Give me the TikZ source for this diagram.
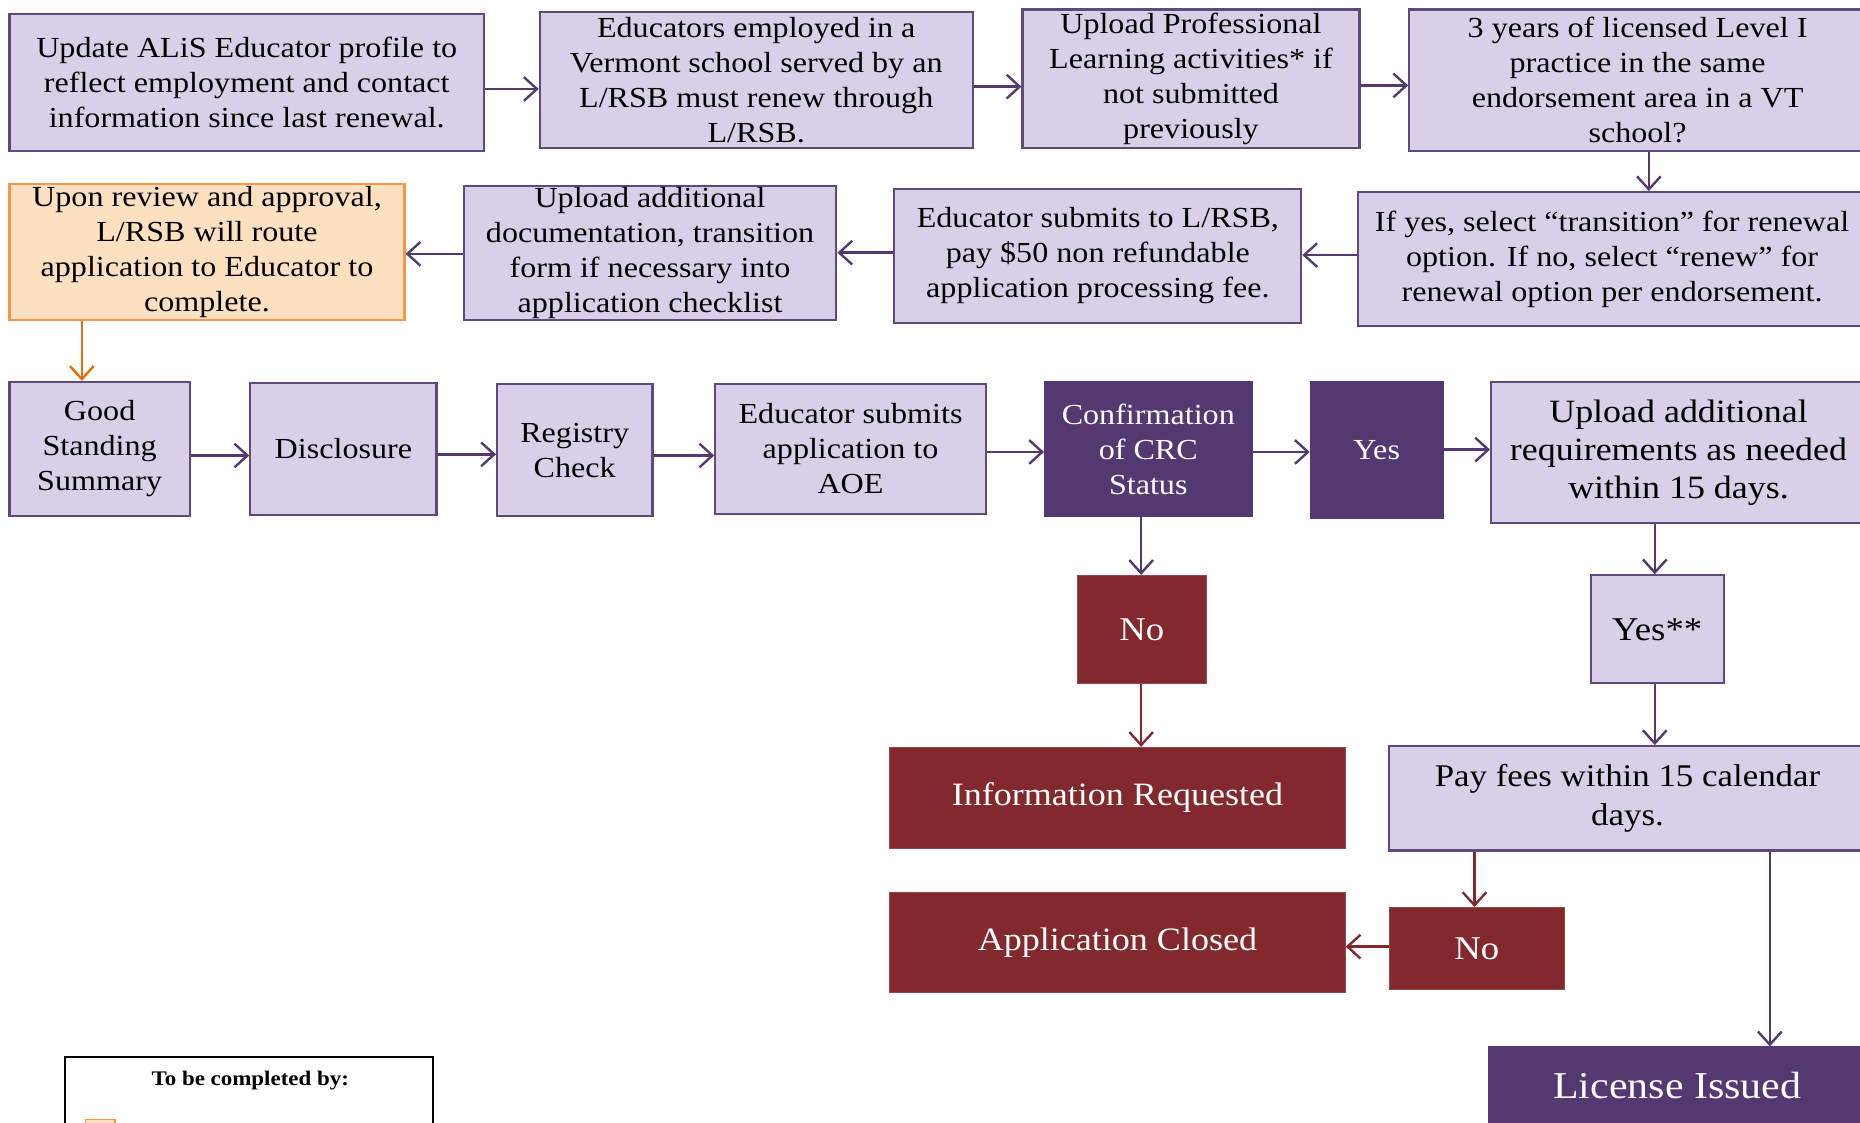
\documentclass[tikz,border=0pt]{standalone}
\usepackage{fontspec}
\setmainfont{Liberation Serif}[FakeStretch=1.105]
\usetikzlibrary{arrows.meta}
\definecolor{lightp}{RGB}{217,207,232}
\definecolor{bordp}{RGB}{96,74,123}
\definecolor{darkp}{RGB}{84,56,113}
\definecolor{darkr}{RGB}{131,40,45}
\definecolor{orangef}{RGB}{253,224,192}
\definecolor{oranged}{RGB}{247,150,70}
\definecolor{orangea}{RGB}{228,108,10}
\definecolor{arrp}{RGB}{84,56,113}
\definecolor{arrr}{RGB}{131,40,45}
\tikzset{
  base/.style={inner sep=0pt, align=center, line width=1.8pt, font=\fontsize{24.5}{29.5}\selectfont},
  lbox/.style={base, draw=bordp, fill=lightp, text=black},
  dpbox/.style={base, draw=darkp, fill=darkp, text=white},
  rbox/.style={base, draw=darkr!85!white, line width=0.8pt, fill=darkr, text=white},
  obox/.style={base, draw=oranged, fill=orangef, text=black},
  arr/.style={draw=arrp, line width=2pt, -{Straight Barb[length=11pt,width=20pt,line width=2pt]}},
  arrred/.style={arr, draw=arrr},
  arrorg/.style={arr, draw=orangea},
  legend/.style={draw=black, line width=1.4pt, fill=white}
}
\begin{document}
\begin{tikzpicture}[x=1pt,y=-1pt]
\useasboundingbox (0,0) rectangle (1568,946);
\clip (0,0) rectangle (1568,946);
% Row 1
\node[lbox, minimum width=400pt, minimum height=115pt] (b1) at (208,69.5)
  {Update ALiS Educator profile to\\reflect employment and contact\\information since last renewal.};
\node[lbox, minimum width=365pt, minimum height=115pt] (b2) at (637.5,67.5)
  {Educators employed in a\\Vermont school served by an\\L/RSB must renew through\\L/RSB.};
\node[lbox, minimum width=284pt, minimum height=117pt] (b3) at (1004,66.5)
  {Upload Professional\\Learning activities* if\\not submitted\\previously};
\node[lbox, minimum width=385pt, minimum height=119pt] (b4) at (1380.5,67.5)
  {3 years of licensed Level I\\practice in the same\\endorsement area in a VT\\school?};
% Row 2
\node[lbox, minimum width=428pt, minimum height=113pt] (b5) at (1359,218.5)
  {If yes, select “transition” for renewal\\option. If no, select “renew” for\\renewal option per endorsement.};
\node[lbox, minimum width=343pt, minimum height=113pt] (b6) at (925.5,215.5)
  {Educator submits to L/RSB,\\pay \$50 non refundable\\application processing fee.};
\node[lbox, minimum width=314pt, minimum height=113pt] (b7) at (548,213.5)
  {Upload additional\\documentation, transition\\form if necessary into\\application checklist};
\node[obox, minimum width=333pt, minimum height=115pt] (b8) at (174.5,212.5)
  {Upon review and approval,\\L/RSB will route\\application to Educator to\\complete.};
% Row 3
\node[lbox, minimum width=152pt, minimum height=113pt] (b9) at (84,378.5)
  {Good\\Standing\\Summary};
\node[lbox, minimum width=157pt, minimum height=111pt] (b10) at (289.5,378.5)
  {Disclosure};
\node[lbox, minimum width=131pt, minimum height=111pt] (b11) at (484.5,379.5)
  {Registry\\Check};
\node[lbox, minimum width=228pt, minimum height=109pt] (b12) at (717,378.5)
  {Educator submits\\application to\\AOE};
\node[dpbox, minimum width=174pt, minimum height=113pt] (b13) at (968,378.5)
  {Confirmation\\of CRC\\Status};
\node[dpbox, minimum width=111pt, minimum height=115pt] (b14) at (1160.5,379.5)
  {Yes};
\node[lbox, minimum width=316pt, minimum height=119pt, font=\fontsize{27.4}{32}\selectfont] (b15) at (1415,381.5)
  {Upload additional\\requirements as needed\\within 15 days.};
% Lower part
\node[rbox, minimum width=109pt, minimum height=91pt, font=\fontsize{28}{32}\selectfont] (b16) at (962.5,530.5) {No};
\node[rbox, minimum width=384pt, minimum height=85pt, font=\fontsize{27.5}{32}\selectfont] (b17) at (942,672.5)
  {Information Requested};
\node[lbox, minimum width=112pt, minimum height=91pt, font=\fontsize{28}{34}\selectfont] (b18) at (1397,530.5)
  {Yes**};
\node[lbox, minimum width=402pt, minimum height=88pt, font=\fontsize{26.6}{33}\selectfont] (b19) at (1372,673)
  {Pay fees within 15 calendar\\days.};
\node[rbox, minimum width=148pt, minimum height=69pt, font=\fontsize{28}{32}\selectfont] (b20) at (1245,799.5) {No};
\node[rbox, minimum width=384pt, minimum height=85pt, font=\fontsize{27.5}{32}\selectfont] (b21) at (942,794.5)
  {Application Closed};
\node[dpbox, minimum width=318pt, minimum height=65pt, font=\fontsize{32}{36}\selectfont] (b22) at (1414,915.5)
  {License Issued};
% Legend
\node[legend, minimum width=310pt, minimum height=90pt] (lg) at (210,936) {};
\node[inner sep=0pt, font=\fontsize{17.5}{20}\selectfont\bfseries] (lgt) at (211,911) {To be completed by:};
\node[draw=oranged, fill=orangef, line width=1pt, minimum width=25pt, minimum height=20pt, inner sep=0pt] (lgo) at (84.5,954) {};
% Connectors row 1
\draw[arr] (b1.east |- 0,75) -- (b2.west |- 0,75);
\draw[arr] (b2.east |- 0,73) -- (b3.west |- 0,73);
\draw[arr] (b3.east |- 0,72) -- (b4.west |- 0,72);
\draw[arr] (b4.south -| 1390,0) -- (b5.north -| 1390,0);
% row 2
\draw[arr] (b5.west |- 0,215) -- (b6.east |- 0,215);
\draw[arr] (b6.west |- 0,213) -- (b7.east |- 0,213);
\draw[arr] (b7.west |- 0,214) -- (b8.east |- 0,214);
\draw[arrorg] (b8.south -| 69,0) -- (b9.north -| 69,0);
% row 3
\draw[arr] (b9.east |- 0,384) -- (b10.west |- 0,384);
\draw[arr] (b10.east |- 0,383) -- (b11.west |- 0,383);
\draw[arr] (b11.east |- 0,384) -- (b12.west |- 0,384);
\draw[arr] (b12.east |- 0,381) -- (b13.west |- 0,381);
\draw[arr] (b13.east |- 0,381) -- (b14.west |- 0,381);
\draw[arr] (b14.east |- 0,379) -- (b15.west |- 0,379);
% lower
\draw[arr] (b13.south -| 962,0) -- (b16.north -| 962,0);
\draw[arrred] (b16.south -| 962,0) -- (b17.north -| 962,0);
\draw[arr] (b15.south -| 1395,0) -- (b18.north -| 1395,0);
\draw[arr] (b18.south -| 1395,0) -- (b19.north -| 1395,0);
\draw[arrred] (b19.south -| 1243,0) -- (b20.north -| 1243,0);
\draw[arrred] (b20.west |- 0,798) -- (b21.east |- 0,798);
\draw[arr] (b19.south -| 1492,0) -- (b22.north -| 1492,0);
\end{tikzpicture}
\end{document}
